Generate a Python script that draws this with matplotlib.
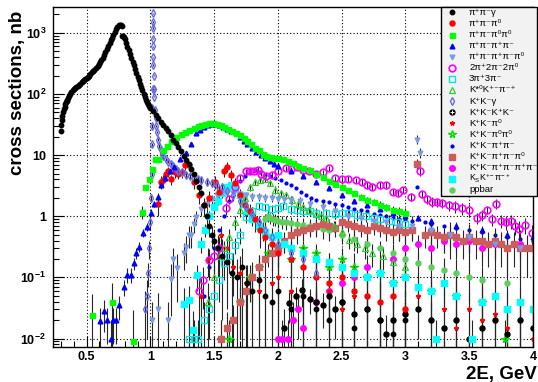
import matplotlib
matplotlib.use("Agg")
import matplotlib.pyplot as plt
from matplotlib.lines import Line2D
from matplotlib.patches import Rectangle

plt.rcParams['font.family'] = ['Liberation Sans', 'DejaVu Sans']
plt.rcParams['mathtext.fontset'] = 'custom'
plt.rcParams['mathtext.rm'] = 'Liberation Sans'
plt.rcParams['mathtext.it'] = 'Liberation Sans:italic'
plt.rcParams['mathtext.bf'] = 'Liberation Sans:bold'

# ---------------- data (GeV, nb) ----------------
pipig_x = [0.295,0.30,0.305,0.31,0.316,0.322,0.327,0.333,0.338,0.343,0.348,0.355,0.362,0.37,0.379,0.39,0.40,0.41,0.42,0.43,0.44,0.45,0.46,0.47,0.483,0.49,0.50,0.51,0.52,0.53,0.54,0.55,0.56,0.575,0.585,0.595,0.605,0.615,0.627,0.637,0.647,0.657,0.668,0.68,0.69,0.70,0.71,0.72,0.73,0.74,0.75,0.76,0.77,0.775,0.778,0.785,0.79,0.80,0.81,0.82,0.83,0.84,0.85,0.86,0.87,0.88,0.89,0.90,0.91,0.92,0.927,0.937,0.947,0.957,0.966,0.975,0.983,0.99,1.00,1.02,1.04,1.06,1.08,1.10,1.12,1.14,1.16,1.18,1.20,1.22,1.24,1.26,1.28,1.30,1.32,1.34,1.36,1.38,1.40,1.42,1.44,1.46,1.48,1.50,1.53,1.56,1.60,1.64,1.68,1.72,1.76,1.80,1.85,1.90,1.95,2.00,2.10,2.20,2.30,2.40,2.50,2.60,2.70,2.80,2.90,3.00]
pipig_y = [25,31,38,44,50,56,62,68,73,77,81,87,93,100,108,115,120,124,129,135,141,148,155,162,170,177,185,192,200,212,225,237,248,265,285,308,330,358,390,430,480,535,600,680,760,840,940,1050,1160,1270,1340,1360,1350,1300,900,880,860,780,680,590,520,450,390,340,295,255,220,192,168,148,132,115,100,90,80,73,68,63,60,52,45,40,35,31,28,24.5,21,18,15.7,13.5,11.5,9.8,8.3,7.1,6.0,4.9,3.8,3.0,2.4,1.5,1.0,0.7,0.5,0.4,0.3,0.22,0.18,0.12,0.1,0.15,0.08,0.06,0.09,0.05,0.04,0.06,0.03,0.05,0.03,0.02,0.04,0.015,0.03,0.02,0.012,0.02]
pipig_e = ([2.0] * 78
           + [1,1,1,1,1,1,1,1,1,1,1,1,1,0.5,0.5,0.5,0.4,0.4,0.4,0.3,0.3,0.3,0.3,0.25,0.2,0.2]
           + [0.2,0.2,0.15,0.12,0.1,0.15,0.08,0.06,0.09,0.05,0.04,0.06,0.03,0.05,0.03,0.02,0.04,0.015,0.03,0.02,0.012,0.02])

pi3_x = [1.057,1.08,1.10,1.12,1.14,1.16,1.19,1.22,1.25,1.27,1.305,1.34,1.38,1.42,1.46,1.51,1.54,1.58,1.60,1.63,1.66,1.70,1.74,1.78,1.82,1.86,1.90,1.95,2.00,2.10,2.20,2.30,2.40,2.50,2.60,2.70,2.80,2.90,3.00]
pi3_y = [1.6,3.7,3.9,5.0,5.4,4.0,5.3,5.0,5.2,6.9,6.9,3.6,2.2,1.5,2.0,3.7,2.5,5.4,6.5,4.8,3.5,2.2,1.5,1.2,0.9,0.6,0.45,0.35,0.25,0.2,0.15,0.1,0.08,0.1,0.06,0.05,0.04,0.05,0.03]
pi3_e = [0.6,0.8,0.8,0.9,1.0,0.8,1.0,0.9,1.0,1.2,1.2,0.8,0.6,0.5,0.6,0.9,0.7,1.0,1.2,1.0,0.8,0.6,0.5,0.4,0.35,0.3,0.25,0.2,0.2,0.15,0.12,0.1,0.08,0.1,0.06,0.05,0.04,0.05,0.03]

pi2pi0_x = [0.54,0.70,0.86,0.935,0.96,0.985,1.01,1.035,1.06,1.10,1.13,1.16,1.20,1.24,1.27,1.305,1.34,1.37,1.40,1.43,1.46,1.49,1.52,1.55,1.58,1.61,1.64,1.67,1.70,1.73,1.76,1.79,1.82,1.85,1.88,1.91,1.94,1.97,2.00,2.04,2.08,2.12,2.16,2.20,2.25,2.30,2.35,2.40,2.45,2.50,2.55,2.60,2.65,2.70,2.75,2.80,2.85,2.90,2.95,3.00]
pi2pi0_y = [0.024,0.04,0.009,1.19,3.0,4.1,5.9,8.6,8.8,12,14,17,20,22,24,26,28,30,31,32,33,33,32,31,29,27,25,23,21,19,17,15,13,12,10.5,9.5,9.2,9.0,8.9,8.7,8.0,7.4,6.6,6.2,5.8,5.0,4.4,3.8,3.4,3.05,2.7,2.4,2.1,1.86,1.7,1.55,1.4,1.27,1.2,1.15]
pi2pi0_e = [0.03,0.04,0.02,0.3,0.3,0.3,0.3,0.3,0.3,0.5,0.5,0.5,0.5,0.5,0.5,0.5,0.5,0.5,0.5,0.5,0.5,0.5,0.5,0.5,0.5,0.5,0.5,0.5,0.5,0.5,0.5,0.5,0.5,0.5,0.5,0.5,0.5,0.5,0.5,0.4,0.4,0.4,0.4,0.4,0.4,0.3,0.3,0.3,0.3,0.3,0.2,0.2,0.2,0.2,0.2,0.2,0.2,0.2,0.2,0.2]

pi4_x = [0.606,0.634,0.66,0.687,0.71,0.73,0.757,0.79,0.817,0.849,0.87,0.888,0.914,0.945,0.971,1.008,1.03,1.057,1.085,1.115,1.15,1.188,1.23,1.28,1.32,1.358,1.39,1.42,1.45,1.48,1.51,1.54,1.57,1.60,1.63,1.67,1.70,1.73,1.76,1.80,1.83,1.87,1.90,1.94,1.97,2.00,2.10,2.20,2.30,2.40,2.50,2.60,2.70,2.80,2.90,3.00,3.10,3.20,3.40,3.60,3.80,4.00]
pi4_y = [0.019,0.028,0.02,0.01,0.02,0.02,0.035,0.07,0.11,0.11,0.17,0.25,0.32,0.53,0.67,1.15,1.6,2.1,3.2,4.3,5.5,6.5,8.5,10.7,15,23,26,29,31,32,32,31,29,27,25,23,20,17,15,13,11.4,10,9,8,7.2,6.6,5.6,4.6,3.6,2.9,2.2,1.8,1.5,1.3,1.12,1.0,0.95,0.85,0.7,0.6,0.5,0.45]
pi4_e = [0.012,0.015,0.012,0.01,0.012,0.012,0.015,0.02,0.03,0.03,0.04,0.05,0.06,0.08,0.1,0.15,0.2,0.3,0.4,0.5,0.5,0.6,0.6,0.8,1,1,1,1,1,1,1,1,1,1,1,1,1,1,0.8,0.8,0.6,0.6,0.5,0.5,0.4,0.4,0.3,0.3,0.2,0.2,0.15,0.12,0.1,0.1,0.1,0.1,0.1,0.1,0.1,0.1,0.1,0.1]

pi5_x = [1.01,1.06,1.135,1.16,1.18,1.21,1.26,1.28,1.30,1.32,1.34,1.36,1.40,1.44,1.48,1.52,1.56,1.60,1.65,1.70,1.75,1.80,1.85,1.90,1.95,2.00,2.05,2.10,2.17,2.25,2.35,2.45,2.55,2.65,2.75,2.85,2.95,3.05,3.09,3.11,3.20,3.35,3.50,3.70,3.90]
pi5_y = [0.02,0.03,0.02,0.093,0.2,0.14,0.25,0.32,0.5,0.5,0.74,0.97,1.3,1.6,1.9,2.2,2.4,2.5,2.4,2.3,2.2,2.1,2.1,2.0,2.0,1.94,1.9,1.86,1.8,1.6,1.4,1.2,1.0,0.95,0.85,0.8,0.7,0.7,18,11,0.6,0.5,0.45,0.35,0.3]
pi5_e = [0.02,0.025,0.02,0.07,0.1,0.1,0.12,0.15,0.2,0.2,0.2,0.25,0.3,0.3,0.3,0.3,0.3,0.3,0.3,0.3,0.3,0.3,0.3,0.3,0.3,0.3,0.3,0.3,0.3,0.3,0.3,0.3,0.3,0.3,0.3,0.3,0.3,0.3,3,2,0.3,0.3,0.3,0.3,0.3]

pi6_x = [1.38,1.41,1.46,1.50,1.54,1.59,1.62,1.66,1.70,1.75,1.78,1.81,1.84,1.87,1.906,1.95,2.00,2.06,2.10,2.15,2.20,2.245,2.30,2.35,2.40,2.45,2.50,2.55,2.61,2.66,2.70,2.74,2.80,2.845,2.90,2.94,2.98,3.04,3.11,3.13,3.17,3.21,3.25,3.29,3.34,3.39,3.44,3.50,3.56,3.60,3.64,3.68,3.71,3.75,3.79,3.83,3.86,3.89,3.94,3.99]
pi6_y = [0.06,0.09,0.19,0.22,0.3,1.35,1.9,3.0,4.2,5.4,5.4,5.6,5.8,5.0,4.5,4.8,5.5,6.1,6.0,6.3,5.8,5.4,5.0,5.2,6.1,4.2,4.0,4.1,3.9,3.6,3.2,3.05,3.2,3.2,2.5,2.4,2.7,2.1,5.5,2.3,1.9,1.73,1.7,1.65,1.5,1.45,1.35,1.27,0.94,1.05,1.27,0.9,1.6,0.85,0.8,0.83,0.7,0.63,0.72,0.53]
pi6_e = [0.05,0.06,0.1,0.1,0.15,0.3,0.3,0.4,0.5,0.5,0.5,0.5,0.5,0.5,0.5,0.5,0.5,0.5,0.5,0.5,0.5,0.5,0.5,0.5,0.5,0.4,0.4,0.4,0.4,0.4,0.4,0.4,0.4,0.4,0.3,0.3,0.3,0.3,1.0,0.3,0.3,0.3,0.3,0.3,0.3,0.3,0.3,0.3,0.2,0.2,0.2,0.2,0.3,0.2,0.2,0.2,0.2,0.2,0.2,0.2]

pi6c_x = [1.305,1.34,1.37,1.42,1.46,1.50,1.54,1.58,1.62,1.66,1.70,1.75,1.80,1.85,1.90,1.95,2.00,2.04,2.10,2.15,2.20,2.25,2.30,2.38,2.45,2.50,2.56,2.62,2.69,2.75,2.80,2.87,2.93,3.00]
pi6c_y = [0.01,0.01,0.01,0.02,0.03,0.05,0.09,0.17,0.22,0.34,0.5,0.99,1.2,1.45,1.4,1.3,1.35,1.45,1.3,1.25,1.2,1.2,1.15,1.12,1.1,1.15,1.12,1.05,1.0,0.95,0.9,0.83,0.8,0.75]
pi6c_e = [0.01,0.01,0.01,0.02,0.02,0.03,0.05,0.08,0.1,0.1,0.15,0.2,0.2,0.2,0.2,0.2,0.2,0.2,0.2,0.2,0.2,0.2,0.2,0.2,0.2,0.2,0.2,0.2,0.2,0.2,0.2,0.2,0.2,0.2]

kstk_x = [1.45,1.50,1.54,1.58,1.62,1.66,1.70,1.74,1.78,1.82,1.86,1.90,1.94,1.98,2.02,2.06,2.11,2.16,2.20,2.245,2.30,2.34,2.38,2.44,2.50,2.56,2.62,2.68,2.74,2.82,2.90,3.00]
kstk_y = [0.04,0.1,0.22,0.3,0.46,0.8,1.26,2.0,3.0,3.7,3.9,4.0,3.5,2.7,2.4,2.2,1.86,1.6,1.4,1.27,1.1,1.0,0.94,0.7,0.55,0.41,0.35,0.3,0.25,0.22,0.18,0.15]
kstk_e = [0.04,0.06,0.1,0.1,0.15,0.2,0.3,0.4,0.4,0.4,0.4,0.4,0.4,0.4,0.3,0.3,0.3,0.3,0.3,0.2,0.2,0.2,0.2,0.15,0.15,0.12,0.1,0.1,0.1,0.1,0.1,0.1]

kkg_x = [0.96,0.97,0.98,0.99,1.00,1.005,1.010,1.013,1.015,1.016,1.017,1.018,1.0185,1.019,1.020,1.021,1.022,1.024,1.026,1.028,1.030,1.035,1.040,1.045,1.050,1.060,1.070,1.080,1.090,1.10,1.12,1.14,1.16,1.18,1.20,1.22,1.25,1.28,1.31,1.34,1.37,1.40,1.44,1.48,1.52,1.56,1.60,1.65,1.70,1.75,1.80,1.85,1.90,1.95,2.00,2.10,2.20,2.30]
kkg_y = [0.03,0.05,0.12,0.3,0.8,2,5,15,30,60,120,300,600,1200,2100,1500,800,400,200,120,90,55,40,30,24,18,14,12,10.5,9.5,8.5,7.8,7.2,6.6,6.0,5.6,5.2,4.8,4.5,4.3,4.1,3.9,3.7,3.5,3.3,3.0,2.6,2.2,1.8,1.4,1.1,0.8,0.6,0.45,0.35,0.25,0.2,0.12]
kkg_e = [0.03,0.04,0.05,0.1,0.2,0.3,0.5,1,2,3,5,10,20,30,50,40,20,10,5,3,2,2,1,1,1,1,1,1,1,1,0.5,0.5,0.5,0.5,0.5,0.5,0.5,0.5,0.5,0.5,0.5,0.5,0.5,0.5,0.5,0.5,0.4,0.4,0.3,0.3,0.3,0.2,0.2,0.2,0.2,0.15,0.15,0.1]

k4_x = [2.05,2.09,2.14,2.19,2.25,2.30,2.35,2.40,2.45,2.50,2.60,2.70,2.80,2.85,2.90,3.00,3.10,3.20,3.30,3.40,3.50,3.60,3.70,3.80,3.90,4.00]
k4_y = [0.015,0.038,0.05,0.063,0.045,0.04,0.035,0.05,0.03,0.04,0.025,0.03,0.02,0.012,0.02,0.025,0.03,0.02,0.015,0.02,0.01,0.015,0.02,0.012,0.02,0.015]
k4_e = [0.015,0.02,0.02,0.03,0.02,0.02,0.02,0.03,0.02,0.03,0.02,0.02,0.02,0.012,0.02,0.02,0.02,0.02,0.015,0.02,0.01,0.015,0.02,0.012,0.02,0.015]

kkpi0_x = [1.40,1.45,1.50,1.55,1.60,1.65,1.70,1.75,1.80,1.85,1.90,1.95,2.00,2.10,2.20,2.30,2.40,2.50,2.60,2.70,2.80,2.90,3.00,3.10,3.20,3.30,3.40,3.50,3.60,3.70,3.80,3.90,4.00]
kkpi0_y = [0.05,0.2,0.4,0.5,0.3,0.15,0.12,0.08,0.1,0.06,0.05,0.08,0.1,0.06,0.05,0.04,0.06,0.03,0.05,0.03,0.04,0.02,0.03,0.05,0.02,0.03,0.015,0.03,0.02,0.025,0.015,0.02,0.01]
kkpi0_e = [0.05,0.1,0.15,0.2,0.15,0.1,0.1,0.08,0.08,0.06,0.05,0.07,0.08,0.06,0.05,0.04,0.05,0.03,0.05,0.03,0.04,0.02,0.03,0.04,0.02,0.03,0.015,0.03,0.02,0.025,0.015,0.02,0.01]

kk2pi0_x = [1.55,1.62,1.70,1.78,1.85,1.92,2.00,2.10,2.20,2.30,2.40,2.50,2.60,2.70,2.80,2.90,3.00,3.20,3.40,3.60,3.78]
kk2pi0_y = [0.01,0.01,0.04,0.1,0.15,0.25,0.3,0.2,0.3,0.25,0.15,0.2,0.15,0.1,0.12,0.08,0.1,0.06,0.05,0.04,0.01]
kk2pi0_e = [0.01,0.01,0.03,0.06,0.08,0.1,0.1,0.1,0.1,0.1,0.1,0.1,0.1,0.08,0.08,0.07,0.08,0.05,0.05,0.04,0.01]

kk2pi_x = [1.42,1.46,1.50,1.54,1.58,1.62,1.66,1.70,1.74,1.78,1.82,1.86,1.90,1.94,1.98,2.02,2.06,2.10,2.14,2.18,2.22,2.26,2.30,2.35,2.40,2.45,2.50,2.55,2.60,2.65,2.70,2.75,2.80,2.85,2.90,2.95,3.00,3.05,3.09,3.15,3.20,3.30,3.40,3.50,3.60,3.70,3.80,3.90,4.00]
kk2pi_y = [0.05,0.15,0.3,0.6,1.0,1.8,2.8,3.8,4.6,5.5,5.8,5.2,4.8,4.5,4.2,3.9,3.5,3.2,2.9,2.5,2.2,2.0,1.86,1.8,1.7,1.6,1.5,1.4,1.3,1.25,1.2,1.1,1.05,1.0,0.95,0.9,0.88,0.85,3.0,0.8,0.75,0.7,0.65,0.6,0.55,0.5,0.45,0.42,0.4]

kk3pi_x = [1.55,1.60,1.65,1.70,1.75,1.80,1.85,1.90,1.95,2.00,2.05,2.10,2.15,2.20,2.25,2.30,2.35,2.40,2.45,2.50,2.55,2.60,2.65,2.70,2.75,2.80,2.85,2.90,2.95,3.00,3.05,3.09,3.15,3.20,3.25,3.30,3.35,3.40,3.45,3.50,3.55,3.60,3.65,3.70,3.75,3.80,3.85,3.90,3.95,4.00]
kk3pi_y = [0.01,0.015,0.02,0.04,0.06,0.1,0.15,0.2,0.25,0.3,0.4,0.5,0.55,0.6,0.65,0.7,0.75,0.7,0.65,0.8,0.75,0.7,0.65,0.6,0.7,0.65,0.6,0.55,0.6,0.55,0.6,7.1,0.5,0.55,0.5,0.45,0.5,0.45,0.4,0.45,0.4,0.4,0.35,0.4,0.35,0.3,0.35,0.3,0.3,0.3]
kk3pi_e = [0.01,0.012,0.015,0.03,0.04,0.06,0.08,0.1,0.12,0.15,0.15,0.2,0.2,0.2,0.2,0.2,0.2,0.2,0.2,0.2,0.2,0.2,0.2,0.2,0.2,0.2,0.2,0.2,0.2,0.2,0.2,1.5,0.2,0.2,0.2,0.2,0.2,0.2,0.2,0.2,0.2,0.2,0.2,0.2,0.2,0.2,0.2,0.2,0.2,0.2]

kk4pi_x = [2.00,2.03,2.08,2.12,2.16,2.20,2.30,2.40,2.50,2.60,2.70,2.80,2.90,3.00,3.10,3.20,3.30,3.40,3.50,3.60,3.70,3.80,3.90,4.00]
kk4pi_y = [0.01,0.01,0.01,0.02,0.03,0.015,0.04,0.06,0.08,0.1,0.15,0.12,0.2,0.3,0.35,0.3,0.4,0.35,0.4,0.3,0.35,0.3,0.35,0.3]
kk4pi_e = [0.01,0.01,0.01,0.02,0.02,0.015,0.03,0.04,0.05,0.06,0.08,0.08,0.1,0.15,0.15,0.15,0.15,0.15,0.15,0.15,0.15,0.15,0.15,0.15]

kskpi_x = [1.26,1.30,1.337,1.365,1.40,1.43,1.46,1.50,1.53,1.56,1.60,1.63,1.66,1.70,1.73,1.76,1.80,1.85,1.90,1.95,2.00,2.05,2.10,2.20,2.30,2.40,2.50,2.60,2.70,2.80,2.90,3.00,3.10,3.20,3.24,3.30,3.40,3.52,3.60,3.70,3.80,3.90,4.00]
kskpi_y = [0.037,0.042,0.014,0.11,0.35,0.6,1.0,1.4,1.8,2.4,3.0,3.3,2.8,2.2,1.6,1.2,0.9,0.7,0.55,0.45,0.5,0.35,0.3,0.25,0.2,0.18,0.15,0.12,0.1,0.12,0.08,0.1,0.07,0.06,0.01,0.08,0.05,0.01,0.04,0.05,0.03,0.04,0.03]
kskpi_e = [0.03,0.03,0.014,0.05,0.1,0.15,0.2,0.3,0.3,0.4,0.4,0.4,0.4,0.3,0.3,0.2,0.2,0.15,0.15,0.12,0.12,0.1,0.1,0.08,0.08,0.07,0.06,0.06,0.05,0.06,0.05,0.05,0.04,0.04,0.01,0.05,0.04,0.01,0.03,0.04,0.03,0.03,0.03]

ppbar_x = [1.88,1.90,1.92,1.94,1.96,1.98,2.00,2.03,2.06,2.10,2.15,2.20,2.25,2.30,2.35,2.40,2.50,2.60,2.70,2.80,2.90,3.00,3.10,3.20,3.30,3.40,3.50,3.60,3.80]
ppbar_y = [0.6,0.9,1.0,0.95,0.9,0.88,0.85,0.82,0.8,0.78,0.75,0.72,0.7,0.66,0.62,0.6,0.5,0.42,0.35,0.3,0.25,0.2,0.17,0.15,0.13,0.12,0.1,0.09,0.08]
ppbar_e = [0.2,0.2,0.2,0.2,0.2,0.2,0.2,0.2,0.2,0.2,0.2,0.2,0.2,0.2,0.2,0.2,0.15,0.15,0.1,0.1,0.1,0.1,0.08,0.08,0.08,0.08,0.06,0.06,0.06]

yticks = [0.01, 0.1, 1, 10, 100, 1000]
ytick_labels = [r'$\mathbf{10^{-2}}$', r'$\mathbf{10^{-1}}$', '1', '10', r'$\mathbf{10^{2}}$', r'$\mathbf{10^{3}}$']
xticks = [0.5, 1.0, 1.5, 2.0, 2.5, 3.0, 3.5, 4.0]
xtick_labels = ['0.5', '1', '1.5', '2', '2.5', '3', '3.5', '4']

labels = ['π⁺π⁻γ', 'π⁺π⁻π⁰', 'π⁺π⁻π⁰π⁰', 'π⁺π⁻π⁺π⁻', 'π⁺π⁻π⁺π⁻π⁰', '2π⁺2π⁻2π⁰',
          '3π⁺3π⁻', 'K*⁰K⁺⁻π⁻⁺', 'K⁺K⁻γ', 'K⁺K⁻K⁺K⁻', 'K⁺K⁻π⁰', 'K⁺K⁻π⁰π⁰',
          'K⁺K⁻π⁺π⁻', 'K⁺K⁻π⁺π⁻π⁰', 'K⁺K⁻π⁺π⁻π⁺π⁻', r'$\mathrm{K_{S}K^{+-}\pi^{-+}}$', 'ppbar']

# ---------------- figure ----------------
W, H = 538.0, 382.0
fig = plt.figure(figsize=(5.38, 3.82), dpi=100)
ax = fig.add_axes([53/W, 1-346.5/H, 480/W, 339.5/H])
ax.set_yscale('log')
ax.set_xlim(0.236, 4.0)
ax.set_ylim(0.0074, 2650)

EC = '#262626'
def draw(x, y, e, **kw):
    n = min(len(x), len(y)) if e is None else min(len(x), len(y), len(e))
    if e is None:
        ax.plot(x[:n], y[:n], ls='none', **kw)
    else:
        ax.errorbar(x[:n], y[:n], yerr=e[:n], ls='none', ecolor=EC, elinewidth=0.8, capsize=0, **kw)

styles = [
    dict(marker='o', color='black', ms=3.2, mec='black'),
    dict(marker='o', color='#ff0000', ms=3.6, mec='#ff0000'),
    dict(marker='s', color='#00ff00', ms=3.6, mec='#00ff00'),
    dict(marker='^', color='#0000ff', ms=3.4, mec='#0000ff'),
    dict(marker='v', color='#7b9be6', ms=3.4, mec='#7b9be6'),
    dict(marker='o', color='#ff00ff', ms=4.8, mfc='none', mec='#ff00ff', mew=1.2),
    dict(marker='s', color='#00ffff', ms=4.3, mfc='none', mec='#00e5e5', mew=1.0),
    dict(marker='^', color='#33cc33', ms=4.8, mfc='none', mec='#33cc33', mew=0.9),
    dict(marker='d', color='#6a6ae6', ms=3.8, mfc='none', mec='#6a6ae6', mew=1.0),
    dict(marker='o', color='black', ms=3.6, mfc='black', mec='black'),
    dict(marker='*', color='#ff0000', ms=3.2, mec='#ff0000'),
    dict(marker='*', color='#00ff00', ms=5.5, mfc='none', mec='#00dd00', mew=1.0),
    dict(marker='o', color='#0000ff', ms=2.0, mec='#0000ff'),
    dict(marker='s', color='#cd5c5c', ms=4, mec='#cd5c5c'),
    dict(marker='o', color='#ff00ff', ms=4, mec='#ff00ff'),
    dict(marker='s', color='#00ffff', ms=4.2, mec='#00ffff'),
    dict(marker='o', color='#5ecf5e', ms=3.6, mec='#5ecf5e'),
]
cross = dict(marker='+', color='white', ms=2.4, mew=0.7, ls='none')

draw(ppbar_x, ppbar_y, ppbar_e, **styles[16])
draw(kk4pi_x, kk4pi_y, kk4pi_e, **styles[14])
draw(kk2pi0_x, kk2pi0_y, kk2pi0_e, **styles[11])
draw(kkpi0_x, kkpi0_y, kkpi0_e, **styles[10])
draw(k4_x, k4_y, k4_e, **styles[9])
ax.plot(k4_x, k4_y, **cross)
draw(kk3pi_x, kk3pi_y, kk3pi_e, **styles[13])
draw(kskpi_x, kskpi_y, kskpi_e, **styles[15])
draw(kk2pi_x, kk2pi_y, None, **styles[12])
draw(pi6c_x, pi6c_y, pi6c_e, **styles[6])
draw(kstk_x, kstk_y, kstk_e, **styles[7])
draw(pi5_x, pi5_y, pi5_e, **styles[4])
draw(pi6_x, pi6_y, pi6_e, **styles[5])
draw(pi3_x, pi3_y, pi3_e, **styles[1])
draw(kkg_x, kkg_y, kkg_e, **styles[8])
draw(pi4_x, pi4_y, pi4_e, **styles[3])
draw(pi2pi0_x, pi2pi0_y, pi2pi0_e, **styles[2])
draw(pipig_x, pipig_y, pipig_e, **styles[0])

# axes styling (ROOT-like)
ax.set_yticks(yticks)
ax.set_yticklabels(ytick_labels)
ax.set_xticks(xticks)
ax.set_xticklabels(xtick_labels)
ax.set_xticks([v/10 for v in range(3, 40)], minor=True)
for lab in ax.get_xticklabels() + ax.get_yticklabels():
    lab.set_fontweight('bold')
    lab.set_fontsize(9)
ax.tick_params(which='both', direction='in', top=False, right=False, width=0.8)
ax.tick_params(which='major', length=8)
ax.tick_params(axis='x', which='major', pad=3)
ax.tick_params(axis='y', which='major', pad=5)
ax.tick_params(which='minor', length=4)
ax.grid(True, which='major', ls=(0, (1, 2)), color='black', lw=0.8)
for s in ax.spines.values():
    s.set_linewidth(1.0)

fig.text(0.032, 1-11/H, 'cross sections, nb', rotation=90, ha='center', va='top',
         fontsize=13.5, fontweight='bold')
fig.text(0.998, 1-379/H, '2E, GeV', ha='right', va='baseline', fontsize=13.5, fontweight='bold')

# legend box (drawn by hand, ROOT TLegend look)
fig.add_artist(Rectangle((441/W, 1-196/H), 96/W, 189/H, transform=fig.transFigure,
                         facecolor='#f2f2f2', edgecolor='black', lw=1.0, zorder=10))
for i, (st, lab) in enumerate(zip(styles, labels)):
    yy = 1 - (12.3 + 11.1*i)/H
    fig.add_artist(Line2D([452.3/W], [yy], transform=fig.transFigure, ls='none', zorder=11, **st))
    if i == 9:
        fig.add_artist(Line2D([452.3/W], [yy], transform=fig.transFigure, zorder=12, **cross))
    fs = 6.3 if lab.startswith('$') else 6.8
    fig.text(469/W, yy, lab, ha='left', va='center', fontsize=fs, zorder=12)

fig.savefig('out.png', dpi=100)
